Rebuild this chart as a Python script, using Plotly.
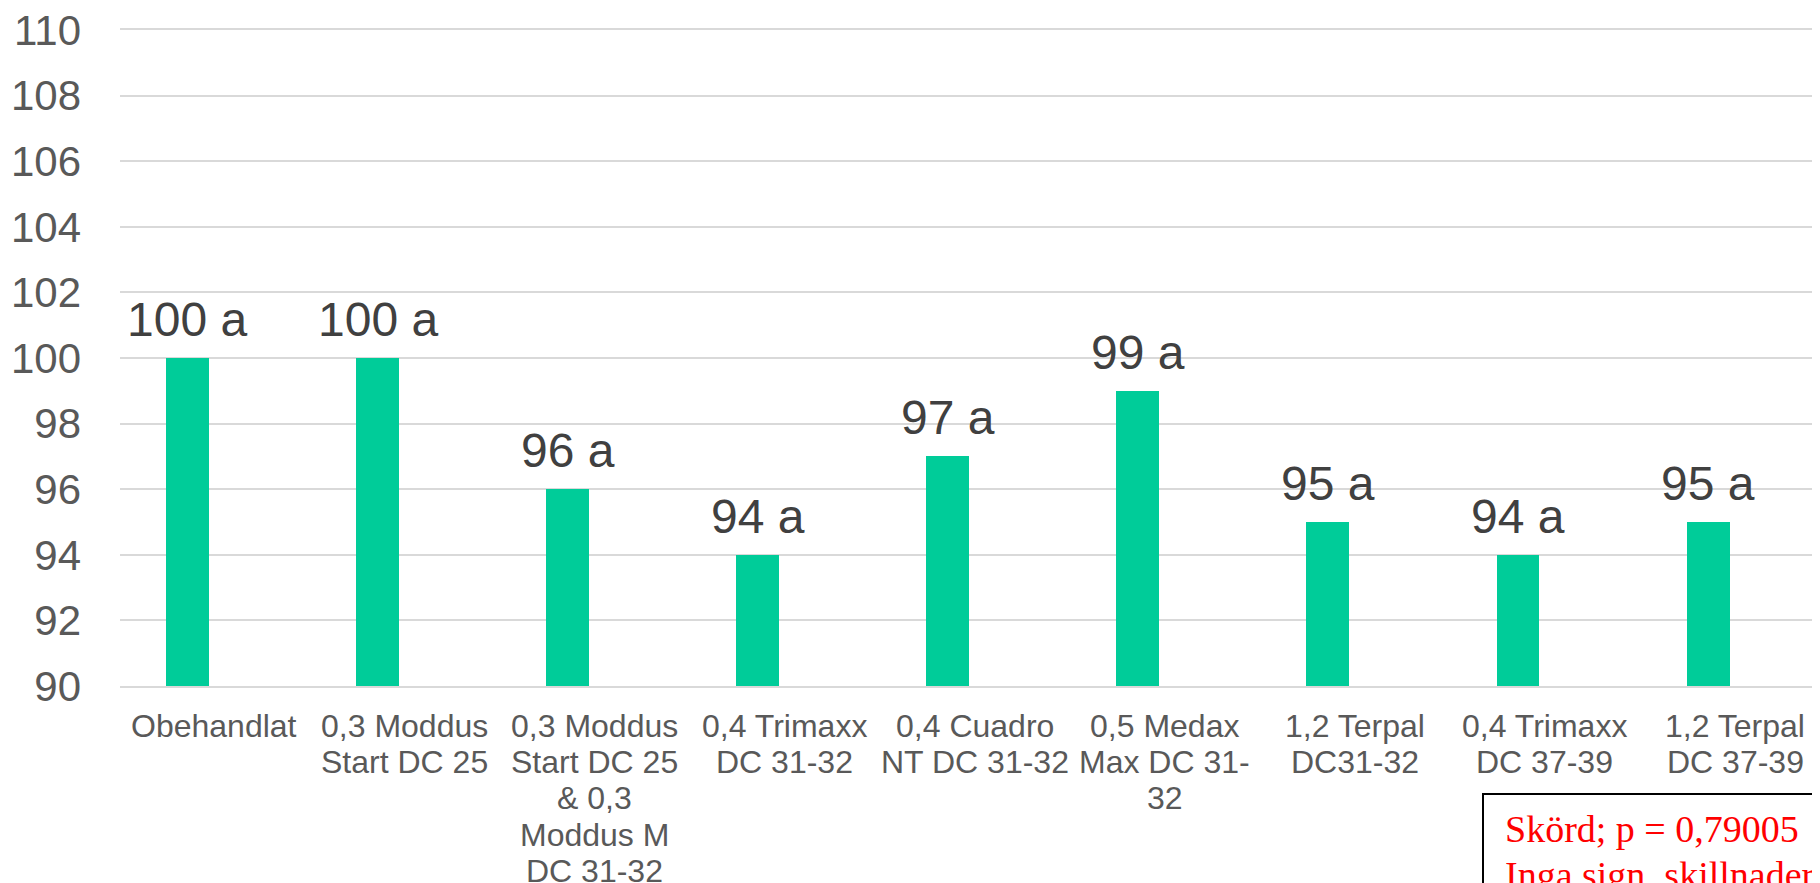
import plotly.graph_objects as go

# ---- data ----
categories = [
    "Obehandlat",
    "0,3 Moddus<br>Start DC 25",
    "0,3 Moddus<br>Start DC 25<br>& 0,3<br>Moddus M<br>DC 31-32",
    "0,4 Trimaxx<br>DC 31-32",
    "0,4 Cuadro<br>NT DC 31-32",
    "0,5 Medax<br>Max DC 31-<br>32",
    "1,2 Terpal<br>DC31-32",
    "0,4 Trimaxx<br>DC 37-39",
    "1,2 Terpal<br>DC 37-39",
]
values = [100, 100, 96, 94, 97, 99, 95, 94, 95]
letters = ["a", "a", "a", "a", "a", "a", "a", "a", "a"]
y_ticks = [90, 92, 94, 96, 98, 100, 102, 104, 106, 108, 110]
stat_lines = ["Skörd; p = 0,79005", "Inga sign. skillnader"]

# ---- style ----
OFF = 8  # page body margin
W, H = 1820 - OFF, 883 - OFF
M_L, M_R, M_T, M_B = 120 - OFF, 0, 30 - OFF, 197
BAR_COLOR = "#00CC99"
GRID = "#D9D9D9"
TICK_COLOR = "#595959"
VAL_COLOR = "#404040"
FONT = "Liberation Sans, Arial, sans-serif"

plot_w = W - M_L - M_R
plot_h = H - M_T - M_B
axis_bottom = 883 - M_B  # target pixel of y=90 line

idx = list(range(len(categories)))

fig = go.Figure()
fig.add_trace(go.Bar(
    x=idx, y=values,
    width=0.226,
    marker=dict(color=BAR_COLOR, line=dict(width=0)),
    hoverinfo="skip",
))

annotations = []
# value labels
for i, (v, l) in enumerate(zip(values, letters)):
    annotations.append(dict(
        x=i, y=v, xref="x", yref="y",
        text=f"{v} {l}", showarrow=False,
        xanchor="center", yanchor="bottom", yshift=10,
        font=dict(family=FONT, size=48, color=VAL_COLOR),
    ))

# category labels, one annotation per line for tight line spacing
LINE_STEP = 36.2
for i, cat in enumerate(categories):
    for j, line in enumerate(cat.split("<br>")):
        annotations.append(dict(
            x=i, y=0, xref="x", yref="paper",
            text=line, showarrow=False,
            xanchor="center", yanchor="top",
            xshift=27,
            yshift=-20 - j * LINE_STEP,
            font=dict(family=FONT, size=32, color=TICK_COLOR),
        ))

# statistics box text
for j, line in enumerate(stat_lines):
    annotations.append(dict(
        x=(1503 - 120) / plot_w, y=0, xref="paper", yref="paper",
        text=line, showarrow=False,
        xanchor="left", yanchor="top",
        yshift=-(806 - axis_bottom) - j * 46,
        font=dict(family="Liberation Serif, Times New Roman, serif", size=38, color="#FF0000"),
    ))

shapes = [dict(
    type="rect", xref="paper", yref="paper",
    x0=(1483 - 120) / plot_w, x1=1.05,
    y0=-0.6, y1=-(794 - axis_bottom) / plot_h,
    line=dict(color="#000000", width=2), fillcolor="rgba(0,0,0,0)",
    layer="above",
)]

fig.update_layout(
    width=W, height=H,
    margin=dict(l=M_L, r=M_R, t=M_T, b=M_B, pad=0),
    paper_bgcolor="white", plot_bgcolor="white",
    showlegend=False,
    bargap=0,
    annotations=annotations,
    shapes=shapes,
    xaxis=dict(
        range=[-0.355, 8.589],
        showticklabels=False, showgrid=False, zeroline=False,
        showline=True, mirror=True, linecolor=GRID, linewidth=2,
        ticks="",
    ),
    yaxis=dict(
        range=[90, 110],
        tickvals=y_ticks,
        ticktext=[str(t) for t in y_ticks],
        showgrid=True, gridcolor=GRID, gridwidth=2,
        zeroline=False, showline=False, ticks="",
        ticklabelstandoff=38,
        ticklabeloverflow="allow",
        tickfont=dict(family=FONT, size=42, color=TICK_COLOR),
    ),
)

fig.write_html("out.html")
